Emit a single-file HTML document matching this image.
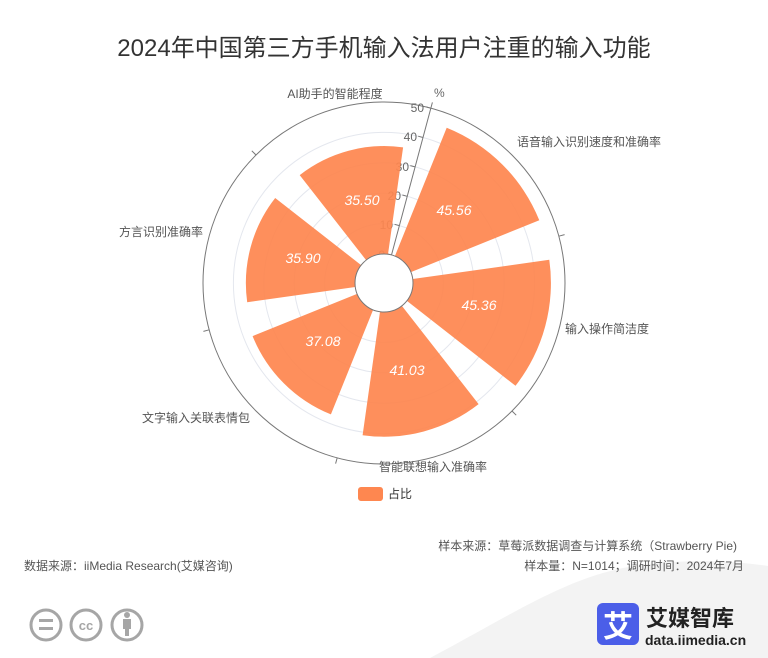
<!DOCTYPE html>
<html><head><meta charset="utf-8"><style>
body{margin:0;width:768px;height:658px;background:#fff;overflow:hidden;font-family:"Liberation Sans","Noto Sans CJK SC",sans-serif;}
</style></head><body>
<svg width="768" height="658" xmlns="http://www.w3.org/2000/svg" style="position:absolute;left:0;top:0" font-family="Liberation Sans, Noto Sans CJK SC, sans-serif">
<path d="M430 658 C520 610 570 575 640 565 C700 558 740 562 768 566 L768 658 Z" fill="#f3f3f3"/>
<text x="384" y="56" font-size="24" fill="#333" text-anchor="middle">2024年中国第三方手机输入法用户注重的输入功能</text>
<g fill="none" stroke="#e4e7ee" stroke-width="1">
<circle cx="384" cy="283" r="59.4"/><circle cx="384" cy="283" r="89.8"/><circle cx="384" cy="283" r="120.2"/><circle cx="384" cy="283" r="150.6"/>
</g>
<circle cx="384" cy="283" r="181" fill="none" stroke="#777"/>
<g stroke="#777">
<line x1="558.8" y1="236.2" x2="564.6" y2="234.6"/><line x1="512" y1="411" x2="516.2" y2="415.2"/>
<line x1="337.2" y1="457.8" x2="335.6" y2="463.6"/><line x1="209.2" y1="329.8" x2="203.4" y2="331.4"/>
<line x1="256" y1="155" x2="251.8" y2="150.8"/>
<line x1="391.5" y1="255" x2="432.4" y2="102.4"/>
<line x1="391.5" y1="255" x2="386.7" y2="253.7"/><line x1="399.4" y1="225.6" x2="394.6" y2="224.3"/>
<line x1="407.2" y1="196.3" x2="402.4" y2="195"/><line x1="415.1" y1="166.9" x2="410.3" y2="165.6"/>
<line x1="423" y1="137.5" x2="418.2" y2="136.2"/><line x1="430.8" y1="108.2" x2="426" y2="106.9"/>
</g>
<g font-size="12" fill="#666" text-anchor="end">
<text x="385" y="259">0</text><text x="393" y="229">10</text><text x="401" y="200">20</text>
<text x="409" y="171">30</text><text x="417" y="141">40</text><text x="424" y="112">50</text>
</g>
<text x="434" y="97" font-size="12" fill="#666">%</text>
<g fill="#fe8750" opacity="0.93">
<path d="M394.9 256.1 L446.7 127.7 A167.5 167.5 0 0 1 539.3 220.3 L410.9 272.1 A29 29 0 0 0 394.9 256.1Z"/>
<path d="M412.7 279 L549.3 259.8 A166.9 166.9 0 0 1 515.5 385.8 L406.9 300.9 A29 29 0 0 0 412.7 279Z"/>
<path d="M401.9 305.9 L478.6 404.1 A153.7 153.7 0 0 1 362.6 435.2 L380 311.7 A29 29 0 0 0 401.9 305.9Z"/>
<path d="M373.1 309.9 L330.9 414.4 A141.7 141.7 0 0 1 252.6 336.1 L357.1 293.9 A29 29 0 0 0 373.1 309.9Z"/>
<path d="M355.3 287 L247.2 302.2 A138.1 138.1 0 0 1 275.2 198 L361.1 265.1 A29 29 0 0 0 355.3 287Z"/>
<path d="M366.1 260.1 L299.7 175.1 A136.9 136.9 0 0 1 403.1 147.4 L388 254.3 A29 29 0 0 0 366.1 260.1Z"/>
</g>
<circle cx="384" cy="283" r="29" fill="#fff" stroke="#777"/>
<g font-size="14" fill="#fff" font-style="italic" text-anchor="middle" font-weight="500">
<text x="362" y="205">35.50</text><text x="454" y="215">45.56</text><text x="479" y="310">45.36</text>
<text x="407" y="375">41.03</text><text x="323" y="346">37.08</text><text x="303" y="263">35.90</text>
</g>
<g font-size="12" fill="#555">
<text x="335" y="98" text-anchor="middle">AI助手的智能程度</text>
<text x="517" y="146">语音输入识别速度和准确率</text>
<text x="565" y="333">输入操作简洁度</text>
<text x="433" y="471" text-anchor="middle">智能联想输入准确率</text>
<text x="250" y="422" text-anchor="end">文字输入关联表情包</text>
<text x="203" y="236" text-anchor="end">方言识别准确率</text>
</g>
<rect x="358" y="487" width="25" height="14" rx="3" fill="#fe8750"/>
<text x="388" y="498" font-size="12" fill="#333">占比</text>
<g font-size="12" fill="#555">
<text x="737" y="550" text-anchor="end">样本来源：草莓派数据调查与计算系统（Strawberry Pie)</text>
<text x="24" y="570">数据来源：iiMedia Research(艾媒咨询)</text>
<text x="744" y="570" text-anchor="end">样本量：N=1014；调研时间：2024年7月</text>
</g>
<g fill="none" stroke="#a6a6a6" stroke-width="3">
<circle cx="46" cy="625" r="15"/><circle cx="86" cy="625" r="15"/><circle cx="127" cy="625" r="15"/>
</g>
<g fill="#a6a6a6">
<rect x="39" y="619" width="14" height="3"/><rect x="39" y="627" width="14" height="3"/>
<circle cx="127" cy="615" r="3"/><rect x="123" y="619" width="8" height="10"/><rect x="125" y="628" width="4" height="8"/>
</g>
<text x="86" y="630" font-size="13" font-weight="bold" fill="#a6a6a6" text-anchor="middle">cc</text>
<rect x="597" y="603" width="42" height="42" rx="6" fill="#4b5ee8"/>
<text x="618" y="637" font-size="30" font-weight="bold" fill="#fff" text-anchor="middle">艾</text>
<text x="646" y="626" font-size="22" font-weight="bold" fill="#222">艾媒智库</text>
<text x="645" y="645" font-size="14" font-weight="bold" fill="#222">data.iimedia.cn</text>
</svg>
</body></html>
